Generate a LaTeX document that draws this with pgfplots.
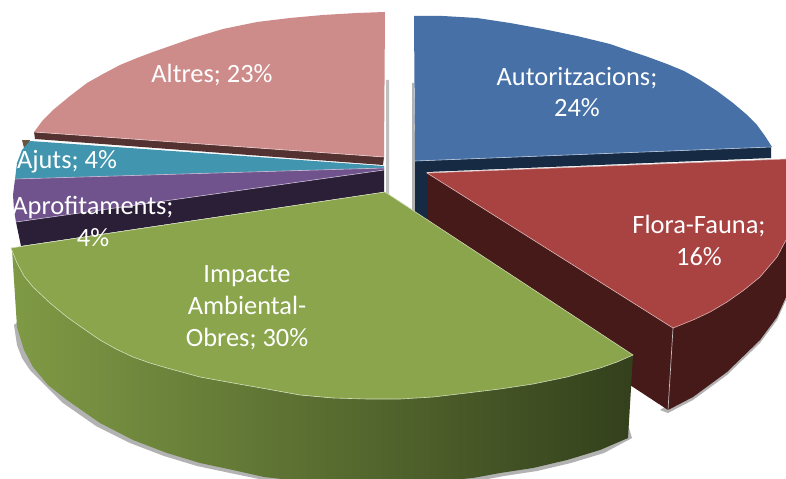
\documentclass[border=0pt]{standalone}
\usepackage{fontspec}
\setmainfont{Carlito}
\usepackage{pgfplots}
\pgfplotsset{compat=1.18}
\definecolor{cBlue}{HTML}{4670A6}
\definecolor{cBlueD}{HTML}{162B43}
\definecolor{cRed}{HTML}{A84342}
\definecolor{cRedD}{HTML}{451A18}
\definecolor{cGreen}{HTML}{8AA54B}
\definecolor{cGreenL}{HTML}{7F9A45}
\definecolor{cGreenM}{HTML}{52642B}
\definecolor{cGreenR}{HTML}{33401C}
\definecolor{cPink}{HTML}{CD8B89}
\definecolor{cPinkD}{HTML}{543232}
\definecolor{cTeal}{HTML}{4195AE}
\definecolor{cPurple}{HTML}{70538D}
\definecolor{cPurpleD}{HTML}{2B1F37}
\definecolor{cBit}{HTML}{6B5540}
\tikzset{lab/.style={font=\fontsize{26.5}{30}\selectfont, text=white, inner sep=0pt, anchor=base}}
\begin{document}
\begin{tikzpicture}
\begin{axis}[
  scale only axis, width=786bp, height=479bp,
  xmin=0, xmax=786, ymin=0, ymax=479, y dir=reverse,
  axis lines=none, ticks=none, clip=true,
]
% background and soft shadows
\addplot[fill=white, draw=none] coordinates {(0,0)(786,0)(786,479)(0,479)} --cycle;
\addplot[fill=black!30, draw=none] coordinates {(412,83)(414,83)(416,212)(412,210)} --cycle;
\addplot[fill=black!25, draw=none] coordinates {(386,80)(389,80)(389,197)(386,195)} --cycle;
\addplot[fill=black!30, draw=none] coordinates {(786,300)(777,320)(760,343)(727,375)(693,400)(668,413)(660,410)(668,405)(786,290)} --cycle;
\addplot[fill=black!30, draw=none] coordinates {(14,325)(17,345)(22,358)(30,370)(63,403)(96,426)(130,443)(164,456)(197,466)(230,473)(264,480)(300,480)(100,400)(20,320)} --cycle;
\addplot[fill=black!30, draw=none] coordinates {(632,438)(604,453)(571,463)(537,471)(504,476)(477,481)(450,481)(600,440)(628,425)} --cycle;
% Autoritzacions side
\addplot[fill=cBlueD, draw=none] coordinates {(415,161)(771,147)(771,158)(427,172)(427,230)(415,213)} --cycle;
% Flora-Fauna side
\addplot[fill=cRedD, draw=none] coordinates {(427,173)(673,328)(786,240)(786,297)(777,317)(760,340)(727,372)(693,397)(668,410)(633,387)(427,260)} --cycle;
\addplot[draw=white!70!cRedD, line width=0.7bp] coordinates {(673,328)(668,410)};
% Autoritzacions top
\addplot[fill=cBlue, draw=none] coordinates {(414,16)(443,16)(477,18)(510,23)(543,29)(577,36)(610,44)(630,51)(648,57)(667,64)(684,71)(700,80)(717,91)(733,103)(746,114)(757,125)(765,136)(772,147)(415,161)} --cycle;
\addplot[draw=white!60!cBlue, line width=0.6bp] coordinates {(415,161)(771,147)};
% Flora-Fauna top
\addplot[fill=cRed, draw=none] coordinates {(427,173)(786,159)(786,240)(777,257)(760,277)(744,290)(727,302)(710,312)(693,320)(673,328)} --cycle;
\addplot[draw=white!60!cRed, line width=0.6bp] coordinates {(786,159)(427,173)(673,328)(693,320)(710,312)(727,302)(744,290)(760,277)(777,257)(786,240)};
% Altres
\addplot[fill=cPinkD, draw=none] coordinates {(34,132)(384,157)(383,165)(35,139)} --cycle;
\addplot[fill=cPink, draw=none] coordinates {(385,12)(357,13)(323,15)(290,18)(257,22)(223,29)(193,38)(173,45)(153,52)(137,58)(120,65)(103,74)(87,83)(70,96)(53,110)(43,120)(34,132)(384,157)} --cycle;
\addplot[draw=white!60!cPink, line width=0.6bp] coordinates {(34,132)(384,157)};
% Ajuts
\addplot[fill=cBit, draw=none] coordinates {(22,140)(30,140)(27,149)(24,148)} --cycle;
\addplot[fill=cTeal, draw=none] coordinates {(30,141)(300,160)(384,166)(384,168)(15,179)(17,163)(22,150)} --cycle;
% Aprofitaments
\addplot[fill=cPurpleD, draw=none] coordinates {(16,222)(384,170)(384,192)(21,246)} --cycle;
\addplot[fill=cPurple, draw=none] coordinates {(15,179)(384,168)(384,170)(16,222)(14,210)(13,195)} --cycle;
\addplot[draw=white!60!cPurple, line width=0.6bp] coordinates {(15,179)(384,168)};
\addplot[draw=white!60!cPurple, line width=0.6bp] coordinates {(16,222)(384,170)};
% Impacte side
\addplot[left color=cGreenL, middle color=cGreenM, right color=cGreenR, draw=none]
 coordinates {(12,249)(17,263)(24,276)(33,287)(50,303)(67,317)(84,329)(100,340)(116,349)(133,357)(150,363)(167,368)(200,377)(233,383)(267,389)(300,395)(333,398)(633,355)(628,438)(600,450)(567,460)(533,468)(500,473)(473,478)(440,481)(300,481)(264,477)(233,470)(200,463)(167,453)(133,440)(100,423)(67,400)(48,385)(33,367)(24,350)(17,327)} --cycle;
% Impacte top
\addplot[fill=cGreen, draw=none] coordinates {(385,192)(633,355)(617,362)(600,368)(567,377)(533,384)(500,389)(467,393)(433,397)(400,399)(367,399)(333,398)(300,395)(267,389)(233,383)(200,377)(167,368)(150,363)(133,357)(116,349)(100,340)(84,329)(67,317)(50,303)(33,287)(24,276)(17,263)(11,248)} --cycle;
\addplot[draw=white!60!cGreen, line width=0.6bp] coordinates {(11,248)(385,192)(633,355)(617,362)(600,368)(567,377)(533,384)(500,389)(467,393)(433,397)(400,399)(367,399)(333,398)(300,395)(267,389)(233,383)(200,377)(167,368)(150,363)(133,357)(116,349)(100,340)(84,329)(67,317)(50,303)(33,287)(24,276)(17,263)(11,248)};
% labels
\node[lab] at (axis cs:212,83) {Altres; 23\%};
\node[lab] at (axis cs:577,86) {Autoritzacions;};
\node[lab] at (axis cs:577,116) {24\%};
\node[lab] at (axis cs:699,233) {Flora-Fauna;};
\node[lab] at (axis cs:699,265) {16\%};
\node[lab] at (axis cs:247,282) {Impacte};
\node[lab] at (axis cs:247,314) {Ambiental-};
\node[lab] at (axis cs:247,346) {Obres; 30\%};
\node[lab] at (axis cs:67,168) {Ajuts; 4\%};
\node[lab] at (axis cs:93,214) {Aprofitaments;};
\node[lab] at (axis cs:93,246) {4\%};
\end{axis}
\end{tikzpicture}
\end{document}
